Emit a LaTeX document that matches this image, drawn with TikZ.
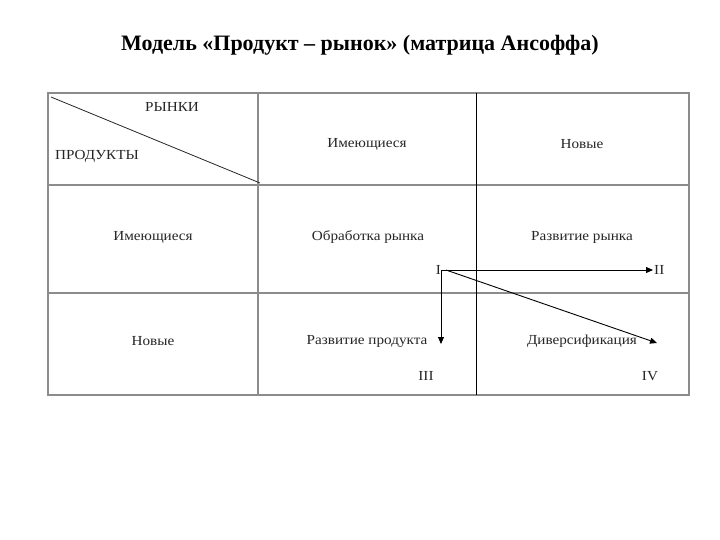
\documentclass[tikz,border=0pt]{standalone}
\usepackage{fontspec}
\setmainfont{Liberation Serif}
\newfontfamily\cellfont[FakeStretch=1.1]{Liberation Serif}
\usetikzlibrary{arrows.meta}
\begin{document}
\begin{tikzpicture}[x=1pt,y=-1pt,
  grid/.style={draw=black!45,line width=1.1pt},
  mid/.style={draw=black,line width=1pt},
  cell/.style={font=\cellfont\fontsize{13.8}{16}\selectfont,text=black!85,inner sep=0pt},
  roman/.style={font=\cellfont\fontsize{13.8}{16}\selectfont,text=black!85,inner sep=1pt},
  arr/.style={draw=black,line width=0.9pt,-{Triangle[length=7pt,width=6pt]}}]
\useasboundingbox (0,0) rectangle (720,540);
\fill[white] (0,0) rectangle (720,540);
\node[font=\fontsize{22}{25}\bfseries\selectfont] (title) at (360,45) {Модель «Продукт – рынок» (матрица Ансоффа)};
% grid
\draw[grid] (48,93) rectangle (689,395);
\draw[grid] (48,185) -- (689,185);
\draw[grid] (48,293) -- (689,293);
\draw[grid] (258,93) -- (258,395);
\draw[mid] (476.5,93) -- (476.5,395);
\draw[draw=black!85,line width=0.8pt] (51,97) -- (260,183);
% texts
\node[cell] (markets) at (172,107) {РЫНКИ};
\node[cell] (products) at (97,156) {ПРОДУКТЫ};
\node[cell] (hm1) at (367,144) {Имеющиеся};
\node[cell] (hm2) at (582,144) {Новые};
\node[cell] (hp1) at (153,237) {Имеющиеся};
\node[cell] (hp2) at (153,341) {Новые};
\node[cell] (c11) at (368,237) {Обработка рынка};
\node[cell] (c12) at (582,237) {Развитие рынка};
\node[cell] (c21) at (367,341) {Развитие продукта};
\node[cell] (c22) at (582,341) {Диверсификация};
% arrows
\node[roman,anchor=east] (r1) at (442,270) {I};
\node[roman,anchor=west] (r2) at (653,270) {II};
\node[roman] (r3) at (426,376) {III};
\node[roman] (r4) at (650,376) {IV};
\coordinate (o) at (441,270);
\coordinate (o2) at (446,270);
\coordinate (e3) at (441,344);
\coordinate (e4) at (657,343);
\draw[arr] (o) -- (r2.west);
\draw[arr] (o) -- (e3);
\draw[arr] (o2) -- (e4);
\end{tikzpicture}
\end{document}
